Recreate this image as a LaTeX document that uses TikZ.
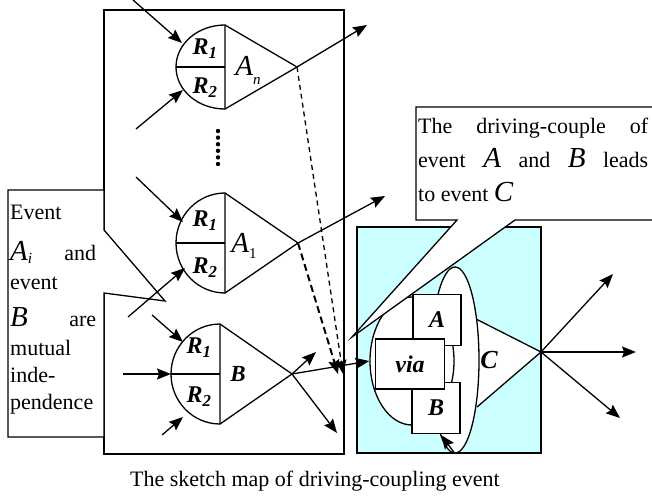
\documentclass[tikz,border=0pt]{standalone}
\usepackage{fontspec}
\setmainfont{Liberation Serif}
\usetikzlibrary{arrows.meta,shapes.geometric,calc}
\definecolor{paleaqua}{HTML}{CCFFFF}
\newcommand{\bigit}[1]{{\fontsize{29}{29}\selectfont\itshape #1}}
\newcommand{\rlab}[1]{\textbf{\textit{R}}\textsubscript{\textbf{\textit{#1}}}}
% half disk with R1/R2 split and its triangle: name, cx, cy, ry, apex x
\newcommand{\gate}[5]{%
  \draw[wire] (#2,#3-#4) arc[start angle=90,end angle=270,
    x radius=49pt,y radius=#4pt] -- cycle;
  \draw[wire] (#2-49,#3) -- (#2,#3);
  \draw[wire] (#2,#3-#4) -- (#5,#3) -- (#2,#3+#4);
  \coordinate (#1tip) at (#5,#3);}
\tikzset{
  wire/.style={line width=1.3pt},
  sig/.style={-{Stealth[length=14pt,width=11pt,inset=2pt]},line width=1.3pt},
  thindash/.style={sig,dash pattern=on 5pt off 4pt},
  thickdash/.style={sig,line width=2pt,dash pattern=on 7pt off 4pt},
  lbl/.style={inner sep=0pt,font=\fontsize{24}{26}\selectfont},
  boldlbl/.style={inner sep=0pt,font=\fontsize{24}{26}\selectfont\bfseries\itshape},
  evbox/.style={draw,fill=white,line width=1.3pt,inner sep=0pt,
                font=\fontsize{24}{26}\selectfont\bfseries\itshape},
  evell/.style={ellipse,draw,fill=white,line width=1.3pt,inner sep=0pt},
  callout/.style={draw,fill=white,line width=1.3pt}
}
\begin{document}
\begin{tikzpicture}[x=1pt,y=-1pt]
  \path[use as bounding box] (0,0) rectangle (652,497);

  % left panel with the three gates
  \draw[wire] (104,10) rectangle (344,454);
  \draw[callout] (8,190) -- (104,190) -- (104,230) -- (165,301)
    -- (104,293) -- (104,437) -- (8,437) -- cycle;
  \node[lbl,anchor=north west,text width=86pt,align=left,
        font=\fontsize{22}{26}\selectfont] (evtxt) at (10,205)
    {Event\\[15pt]
     \bigit{A}\textsubscript{\itshape i}\hfill and\\[3pt]
     event\\[11pt]
     \bigit{B}\hfill are\\[3pt]
     mutual\\[1pt] inde-\\[1pt] pendence};

  \gate{an}{225}{67}{42}{297}
  \gate{ao}{225}{243}{50}{298}
  \gate{bg}{220}{374}{50}{292}

  \node[boldlbl] (anr1) at (205,49) {\rlab{1}};
  \node[boldlbl] (anr2) at (205,88) {\rlab{2}};
  \node[lbl] (anlbl) at (248,70)
    {\bigit{A}\raisebox{-9pt}{\fontsize{15}{15}\selectfont\itshape n}};
  \node[boldlbl] (aor1) at (205,221) {\rlab{1}};
  \node[boldlbl] (aor2) at (205,268) {\rlab{2}};
  \node[lbl] (aolbl) at (244,246)
    {\bigit{A}\raisebox{-6pt}{\fontsize{15}{15}\selectfont 1}};
  \node[boldlbl] (bgr1) at (199,348) {\rlab{1}};
  \node[boldlbl] (bgr2) at (199,397) {\rlab{2}};
  \node[boldlbl,font=\fontsize{23}{24}\selectfont\bfseries\itshape]
    (bglbl) at (238,374) {B};

  \foreach \k in {0,...,5}
    \fill (218,131+6.6*\k) circle (2.2pt);

  % right part: the coupled event C
  \fill[paleaqua] (357,227) rectangle (541,453);
  \draw[wire] (357,227) rectangle (541,453);
  \coordinate (ctip) at (541,352);
  \draw[wire,fill=white] (474,318) -- (ctip) -- (477,407);
  \node[evell,minimum width=48pt,minimum height=186pt] (cEll) at (455,360) {};
  \node[evell,minimum width=84pt,minimum height=128pt] (viaEll) at (412,361) {};
  \node[evbox,minimum width=48pt,minimum height=51pt] (boxA) at (437,320) {A};
  \node[evbox,minimum width=48pt,minimum height=51pt] (boxB) at (436,408) {B};
  \node[evbox,minimum width=69pt,minimum height=50pt] (boxVia) at (410,364) {via};
  \node[boldlbl,font=\fontsize{26}{26}\selectfont\bfseries\itshape]
    (clbl) at (489,360) {C};

  \draw[callout] (416,107) -- (660,107) -- (660,220) -- (515,220)
    -- (352,337) -- (457,220) -- (416,220) -- cycle;
  \node[lbl,anchor=north west,text width=230pt,align=justify,
        font=\fontsize{22}{34}\selectfont] (cpltxt) at (418,118)
    {The driving-couple of\linebreak
     event \bigit{A} and \bigit{B} leads\linebreak
     to event \bigit{C}};

  % connectors
  \coordinate (anI1) at (133,0);   \coordinate (anE1) at (182,43);
  \coordinate (anI2) at (136,129); \coordinate (anE2) at (183,90);
  \coordinate (aoI1) at (136,177); \coordinate (aoE1) at (183,222);
  \coordinate (aoI2) at (128,317); \coordinate (aoE2) at (185,268);
  \coordinate (bgI1) at (152,315); \coordinate (bgE1) at (183,342);
  \coordinate (bgI2) at (123,374); \coordinate (bgE2) at (171,374);
  \coordinate (bgI3) at (162,435); \coordinate (bgE3) at (183,417);
  \coordinate (anO) at (367,25);   \coordinate (aoO) at (385,196);
  \coordinate (bO1) at (316,352);  \coordinate (bO2) at (337,433);
  \coordinate (dsh1) at (343,374); \coordinate (dsh2) at (338,374);
  \coordinate (cO1) at (613,274);  \coordinate (cO2) at (636,352);
  \coordinate (cO3) at (620,418);  \coordinate (bIn) at (441,435);

  \foreach \s/\e in {anI1/anE1,anI2/anE2,aoI1/aoE1,aoI2/aoE2,
                     bgI1/bgE1,bgI2/bgE2,bgI3/bgE3}
    \draw[sig] (\s) -- (\e);
  \draw[sig] (antip) -- (anO);
  \draw[sig] (aotip) -- (aoO);
  \draw[sig] (bgtip) -- (bO1);
  \draw[sig] (bgtip) -- (bO2);
  \draw[sig] (bgtip) -- (viaEll.west);
  \draw[thindash] (antip) -- (dsh1);
  \draw[thickdash] (aotip) -- (dsh2);
  \draw[sig] (ctip) -- (cO1);
  \draw[sig] (ctip) -- (cO2);
  \draw[sig] (ctip) -- (cO3);
  \draw[sig] (cEll.south) -- (bIn);

  \node[lbl,font=\fontsize{22}{24}\selectfont] (caption) at (315,481)
    {The sketch map of driving-coupling event};
\end{tikzpicture}
\end{document}
